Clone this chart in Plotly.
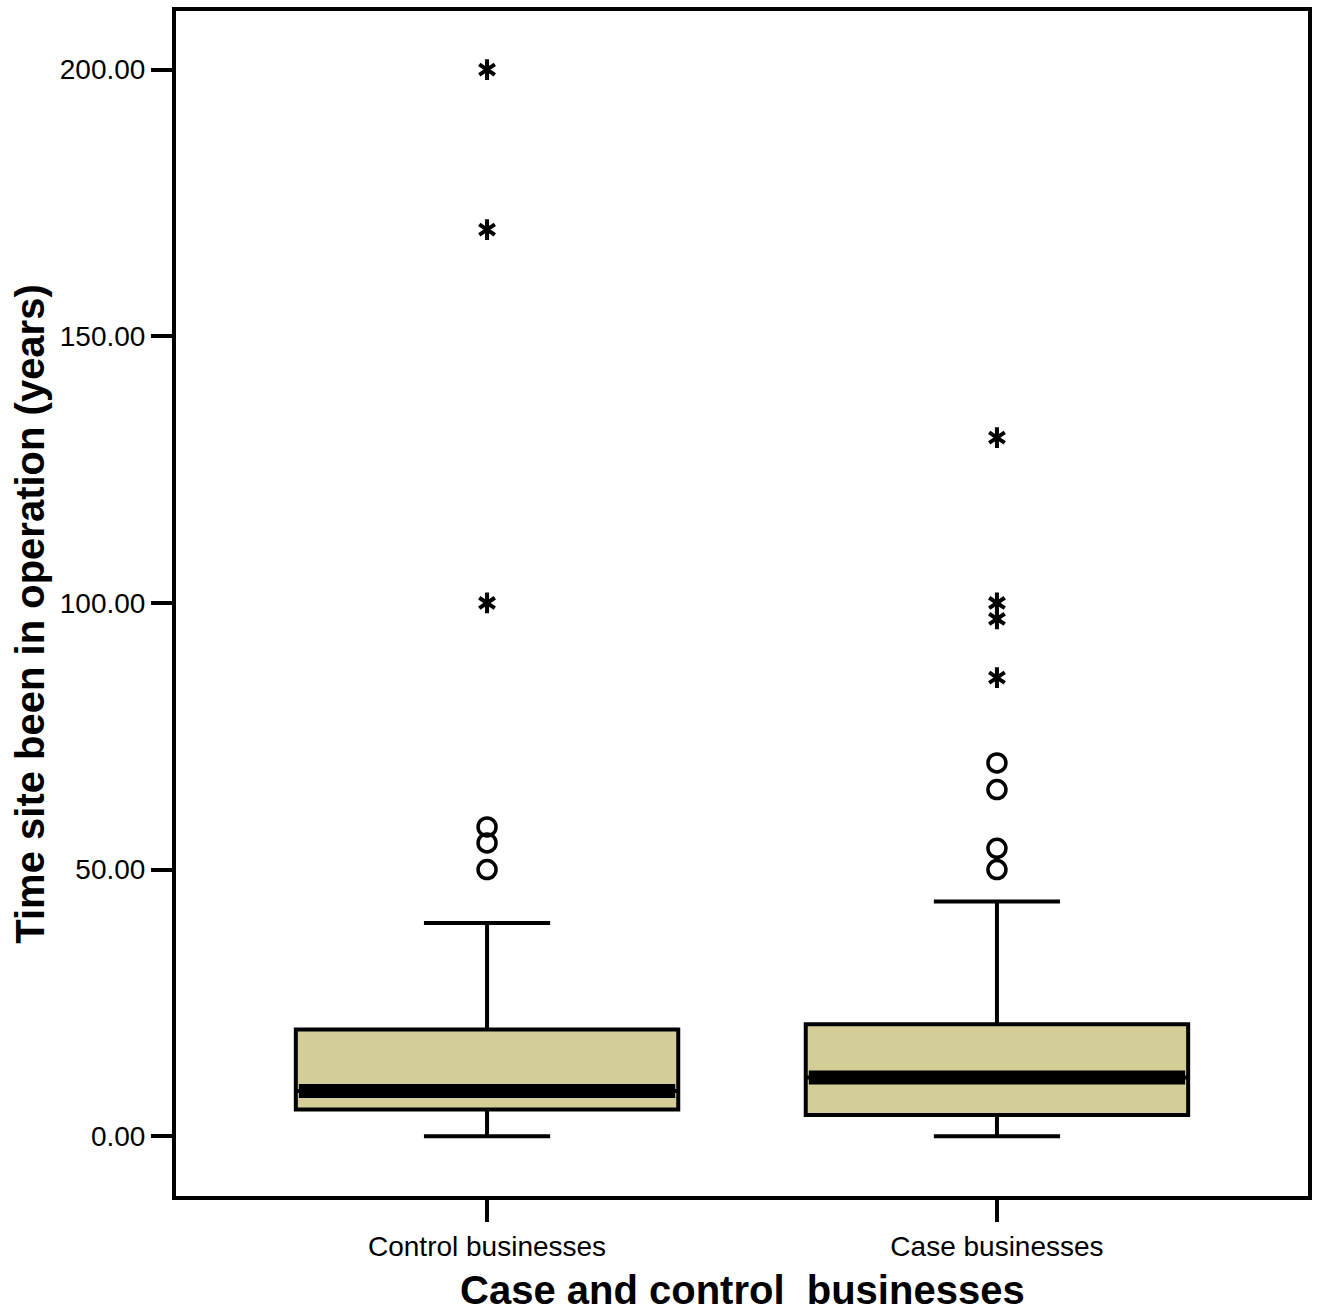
import plotly.graph_objects as go

# Group labels and box summary statistics (years)
groups = ["Control businesses", "Case businesses"]
lower_whisker = [0, 0]
q1 = [5, 4]
median = [8.5, 11]
q3 = [20, 21]
upper_whisker = [40, 44]

# Outliers (circles) and extreme values (asterisks) per group
outliers = [[50, 55, 58], [50, 54, 65, 70]]
extremes = [[100, 170, 200], [86, 97, 100, 131]]

y_ticks = [0, 50, 100, 150, 200]

BOX_WIDTH = 0.75
FILL = "#D3CE98"
FONT = "Liberation Sans, Arial, sans-serif"

fig = go.Figure()

for i, name in enumerate(groups):
    fig.add_trace(go.Box(
        x=[i], q1=[q1[i]], median=[median[i]], q3=[q3[i]],
        lowerfence=[lower_whisker[i]], upperfence=[upper_whisker[i]],
        width=BOX_WIDTH, whiskerwidth=0.33, boxpoints=False,
        fillcolor=FILL, line=dict(color="black", width=4),
        showlegend=False, hoverinfo="skip",
    ))
    # thick median band
    fig.add_trace(go.Scatter(
        x=[i - BOX_WIDTH / 2 + 0.006, i + BOX_WIDTH / 2 - 0.006],
        y=[median[i], median[i]],
        mode="lines", line=dict(color="black", width=14),
        showlegend=False, hoverinfo="skip",
    ))
    fig.add_trace(go.Scatter(
        x=[i] * len(outliers[i]), y=outliers[i], mode="markers",
        marker=dict(symbol="circle-open", size=18, color="black",
                    line=dict(width=3.5, color="black")),
        showlegend=False, hoverinfo="skip",
    ))
    # extreme values: two overlaid Y shapes form a six-armed star
    for sym in ("y-up-open", "y-down-open"):
        fig.add_trace(go.Scatter(
            x=[i] * len(extremes[i]), y=extremes[i], mode="markers",
            marker=dict(symbol=sym, size=13, color="black",
                        line=dict(width=4, color="black")),
            showlegend=False, hoverinfo="skip",
        ))

fig.update_layout(
    width=1319, height=1312,
    margin=dict(l=176, r=7, t=8, b=116),
    paper_bgcolor="white", plot_bgcolor="white",
    font=dict(family=FONT, color="black"),
    xaxis=dict(
        range=[-0.61, 1.61], tickvals=[0, 1], ticktext=groups,
        ticks="outside", ticklen=22, tickwidth=4, tickcolor="black",
        tickfont=dict(size=28), showgrid=False, zeroline=False,
        showline=True, linecolor="black", linewidth=4, mirror=True,
    ),
    yaxis=dict(
        range=[-11.2, 211.0], tickvals=y_ticks, tickformat=".2f",
        ticks="outside", ticklen=21, tickwidth=4, tickcolor="black",
        tickfont=dict(size=28), showgrid=False, zeroline=False,
        showline=True, linecolor="black", linewidth=4, mirror=True,
    ),
    annotations=[
        dict(text="<b>Time site been in operation (years)</b>",
             xref="paper", yref="paper", x=-0.1285, y=0.491,
             xanchor="center", yanchor="middle", textangle=-90,
             showarrow=False, font=dict(size=40, family=FONT)),
        dict(text="<b>Case and control&nbsp; businesses</b>",
             xref="paper", yref="paper", x=0.5, y=-0.0791,
             xanchor="center", yanchor="middle",
             showarrow=False, font=dict(size=40, family=FONT)),
    ],
)

fig.write_html("out.html")
